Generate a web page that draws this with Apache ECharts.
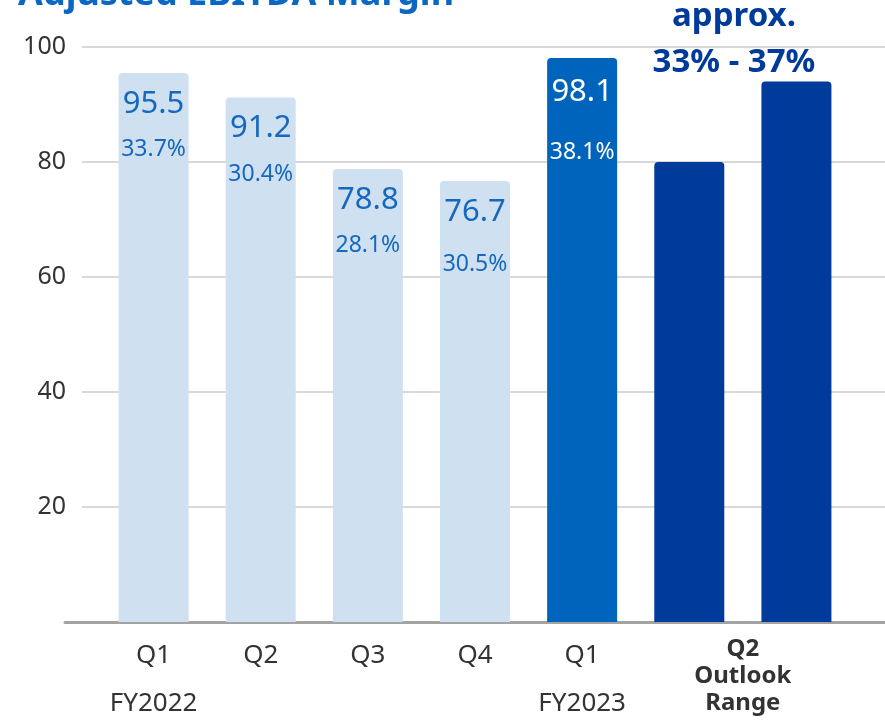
<!DOCTYPE html>
<html>
<head>
<meta charset="utf-8">
<script src="https://cdn.jsdelivr.net/npm/echarts@6/dist/echarts.min.js"></script>
<style>
  html, body { margin: 0; padding: 0; background: #fff; }
  #chart { width: 885px; height: 721px; }
</style>
</head>
<body>
<div id="chart"></div>
<script>
const categories = ['Q1 FY2022', 'Q2 FY2022', 'Q3 FY2022', 'Q4 FY2022', 'Q1 FY2023', 'Q2 Outlook Low', 'Q2 Outlook High'];
const quarterLabels = ['Q1', 'Q2', 'Q3', 'Q4', 'Q1', 'Q2\nOutlook\nRange', ''];
const fiscalYears = ['FY2022', '', '', '', 'FY2023', '', ''];
const ebitda = [95.5, 91.2, 78.8, 76.7, 98.1, 80, 94];
const marginPct = ['33.7%', '30.4%', '28.1%', '30.5%', '38.1%', '', ''];
const yTicks = [20, 40, 60, 80, 100];
const titleText = 'Adjusted EBITDA Margin';
const outlookNote = ['approx.', '33% - 37%'];

const FONT = '"Noto Sans", "Open Sans", sans-serif';
const LIGHT = '#cfe0f1', MID = '#0064bd', DARK = '#003a9b', LABEL_BLUE = '#1668bf';

function barColor(i) { return i < 4 ? LIGHT : (i === 4 ? MID : DARK); }

const xData = categories.map((c, i) => {
  if (i === 5) {
    return { value: quarterLabels[i], textStyle: { fontWeight: 'bold', fontSize: 24, lineHeight: 27, padding: [0, 0, 0, 107] } };
  }
  const lbl = fiscalYears[i] ? quarterLabels[i] + '\n\n' + fiscalYears[i] : quarterLabels[i];
  return { value: lbl };
});

const seriesData = ebitda.map((v, i) => {
  const item = { value: v, itemStyle: { color: barColor(i), borderRadius: [4, 4, 0, 0] } };
  if (!marginPct[i]) {
    item.label = { show: false };
  } else if (i === 4) {
    item.label = { color: '#fff', distance: 8, rich: { v: { color: '#fff', fontSize: 31, lineHeight: 52, fontFamily: FONT }, p: { color: '#fff', fontSize: 23, lineHeight: 70, fontFamily: FONT } } };
  } else if (i === 3) {
    item.label = { rich: { v: { color: LABEL_BLUE, fontSize: 31, lineHeight: 52, fontFamily: FONT }, p: { color: LABEL_BLUE, fontSize: 23, lineHeight: 52, fontFamily: FONT } } };
  }
  return item;
});

const chart = echarts.init(document.getElementById('chart'), null, { renderer: 'canvas' });
chart.setOption({
  animation: false,
  textStyle: { fontFamily: FONT },
  grid: [
    { left: 82, right: 0, top: 47, bottom: 99 },
    { left: 65, right: 0, top: 47, bottom: 99 },
    { left: 100, right: 35, top: 47, bottom: 99 }
  ],
  xAxis: [
    { gridIndex: 0, type: 'category', data: [''], show: false },
    { gridIndex: 1, type: 'category', data: [''], axisLine: { show: true, lineStyle: { color: '#a3a3a3', width: 3 } }, axisTick: { show: false }, axisLabel: { show: false } },
    {
      gridIndex: 2, type: 'category', data: xData,
      axisLine: { show: false }, axisTick: { show: false },
      axisLabel: { interval: 0, margin: 14, fontSize: 26, lineHeight: 24, color: '#333', padding: [8, 0, 0, 0], fontFamily: FONT }
    }
  ],
  yAxis: [
    {
      gridIndex: 0, type: 'value', min: 0, max: 100, interval: 20,
      axisLine: { show: false }, axisTick: { show: false },
      axisLabel: { margin: 16, fontSize: 25, color: '#333', fontFamily: FONT, formatter: v => (yTicks.indexOf(v) >= 0 ? String(v) : '') },
      splitLine: { lineStyle: { color: '#cccccc', width: 1.5 } }
    },
    { gridIndex: 1, type: 'value', min: 0, max: 100, show: false },
    { gridIndex: 2, type: 'value', min: 0, max: 100, show: false }
  ],
  series: [{
    type: 'bar',
    xAxisIndex: 2, yAxisIndex: 2,
    barWidth: 70,
    data: seriesData,
    z: 1,
    label: {
      show: true, position: 'insideTop', distance: 5, align: 'center',
      formatter: p => '{v|' + ebitda[p.dataIndex].toFixed(1) + '}\n{p|' + marginPct[p.dataIndex] + '}',
      rich: {
        v: { color: LABEL_BLUE, fontSize: 31, lineHeight: 52, fontFamily: FONT },
        p: { color: LABEL_BLUE, fontSize: 23, lineHeight: 40, fontFamily: FONT }
      }
    }
  }],
  graphic: [
    { type: 'text', left: 18, top: -23, style: { text: titleText, fontSize: 36, fontWeight: 'bold', fill: '#0a67c2', fontFamily: FONT } },
    { type: 'text', x: 734, y: 40, style: { text: outlookNote.join('\n'), fontSize: 33, fontWeight: 'bold', fill: DARK, lineHeight: 46, align: 'center', verticalAlign: 'middle', fontFamily: FONT } }
  ]
});
</script>
</body>
</html>
